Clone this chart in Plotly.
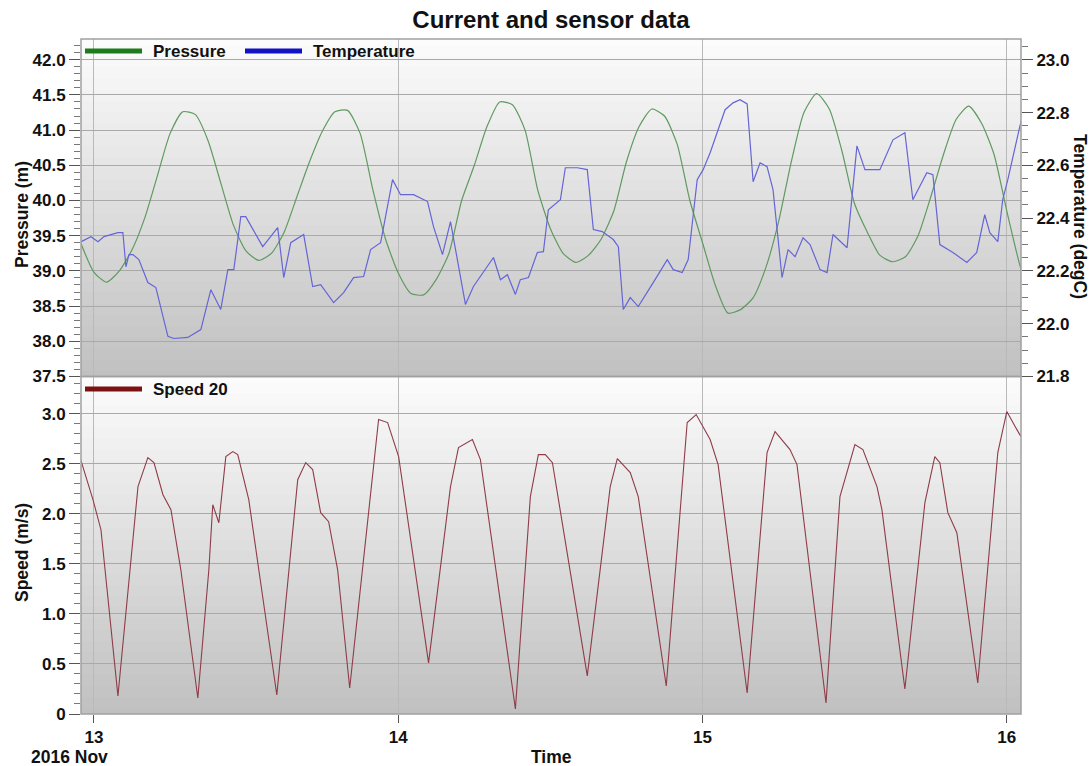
import pandas as pd
import plotly.graph_objects as go

BASE = pd.Timestamp("2016-11-13 00:00")

# ---------------- data (hours after 2016-11-13 00:00) ----------------
pressure_hours = [-1.05] + list(range(0, 75))
pressure_m = [39.40,
              38.98, 38.84, 39.00, 39.30, 39.75, 40.35, 40.95, 41.26, 41.22, 40.85,
              40.25, 39.65, 39.28, 39.15, 39.25, 39.55, 40.05, 40.55, 40.98, 41.26,
              41.28, 40.95, 40.15, 39.45, 38.97, 38.68, 38.66, 38.88, 39.25, 40.00,
              40.50, 41.05, 41.40, 41.36, 41.00, 40.15, 39.60, 39.25, 39.12, 39.22,
              39.45, 39.85, 40.55, 41.05, 41.30, 41.20, 40.80, 40.00, 39.40, 38.80,
              38.40, 38.45, 38.62, 39.05, 39.70, 40.55, 41.25, 41.52, 41.30, 40.70,
              39.95, 39.55, 39.22, 39.13, 39.20, 39.50, 40.05, 40.65, 41.15, 41.34,
              41.10, 40.65, 39.85, 39.10, 38.50]

temp_hours = [-1.05, -0.24, 0.32, 0.79, 1.89, 2.28, 2.52, 2.76, 3.07, 3.54, 4.25, 4.88,
              5.83, 6.30, 7.40, 8.43, 9.22, 10.00, 10.56, 11.03, 11.58, 11.97, 13.31,
              14.49, 14.97, 15.52, 16.54, 17.25, 17.88, 18.90, 19.69, 20.48, 21.27,
              21.82, 22.61, 23.55, 24.18, 25.21, 26.31, 26.78, 27.49, 28.12, 29.30,
              29.93, 31.51, 32.06, 32.61, 33.24, 33.63, 34.27, 34.97, 35.45, 35.84,
              36.79, 37.18, 38.12, 38.91, 39.39, 40.09, 40.96, 41.36, 41.75, 42.30,
              42.93, 44.11, 45.22, 45.69, 46.40, 46.87, 47.26, 47.58, 48.05, 48.60,
              49.78, 50.41, 50.96, 51.52, 51.99, 52.54, 53.09, 53.56, 54.27, 54.75,
              55.30, 55.93, 56.48, 57.27, 57.82, 58.29, 59.40, 60.18, 60.81, 61.99,
              63.02, 63.96, 64.59, 65.69, 66.17, 66.72, 67.75, 68.85, 69.63, 70.26,
              70.66, 71.29, 71.68, 72.08, 73.02, 73.20]
temp_degc = [22.310, 22.330, 22.311, 22.330, 22.345, 22.345, 22.216, 22.262, 22.262, 22.243,
             22.156, 22.137, 21.952, 21.944, 21.948, 21.978, 22.129, 22.054, 22.205, 22.205,
             22.406, 22.406, 22.292, 22.364, 22.175, 22.307, 22.338, 22.141, 22.148, 22.080,
             22.118, 22.175, 22.179, 22.281, 22.307, 22.546, 22.489, 22.489, 22.463, 22.368,
             22.262, 22.387, 22.073, 22.141, 22.251, 22.167, 22.186, 22.111, 22.167, 22.175,
             22.270, 22.273, 22.432, 22.470, 22.591, 22.591, 22.584, 22.357, 22.349, 22.319,
             22.292, 22.054, 22.099, 22.065, 22.156, 22.243, 22.205, 22.194, 22.243, 22.421,
             22.546, 22.584, 22.648, 22.811, 22.837, 22.849, 22.833, 22.538, 22.610, 22.595,
             22.508, 22.175, 22.281, 22.254, 22.326, 22.300, 22.205, 22.194, 22.338, 22.288,
             22.674, 22.584, 22.584, 22.697, 22.724, 22.470, 22.572, 22.565, 22.300, 22.270,
             22.232, 22.270, 22.413, 22.345, 22.311, 22.470, 22.546, 22.746, 22.780]

speed_hours = [-1.05, -0.08, 0.55, 1.89, 3.47, 4.25, 4.73, 5.44, 6.07, 6.85, 8.19, 9.06,
               9.37, 9.85, 10.40, 10.95, 11.34, 12.21, 13.00, 14.42, 16.07, 16.70, 17.25,
               17.88, 18.51, 19.22, 20.17, 22.45, 23.16, 24.03, 26.39, 28.12, 28.75,
               29.85, 30.48, 33.24, 34.42, 35.05, 35.60, 36.16, 38.91, 40.72, 41.28,
               42.30, 42.93, 45.14, 46.79, 47.50, 48.60, 49.23, 51.52, 53.09, 53.72,
               54.90, 55.45, 57.74, 58.84, 60.02, 60.65, 61.76, 62.15, 63.96, 65.54,
               66.32, 66.72, 67.35, 68.06, 69.71, 71.29, 72.00, 73.02, 73.20]
speed_ms = [2.54, 2.14, 1.84, 0.18, 2.27, 2.56, 2.51, 2.19, 2.04, 1.44, 0.16, 1.44,
            2.09, 1.91, 2.57, 2.62, 2.59, 2.14, 1.44, 0.19, 2.34, 2.51, 2.44,
            2.01, 1.92, 1.44, 0.26, 2.94, 2.91, 2.57, 0.51, 2.27, 2.66,
            2.74, 2.54, 0.05, 2.17, 2.59, 2.59, 2.51, 0.38, 2.27, 2.55,
            2.41, 2.17, 0.28, 2.91, 2.99, 2.74, 2.49, 0.21, 2.61, 2.82,
            2.64, 2.49, 0.11, 2.17, 2.69, 2.64, 2.27, 2.04, 0.25, 2.11,
            2.57, 2.51, 2.01, 1.81, 0.31, 2.61, 3.02, 2.79, 2.76]

day_ticks = ["2016-11-13", "2016-11-14", "2016-11-15", "2016-11-16"]
day_labels = ["13", "14", "15", "16"]
speed_ticks = [0, 0.5, 1.0, 1.5, 2.0, 2.5, 3.0]
speed_labels = ["0", "0.5", "1.0", "1.5", "2.0", "2.5", "3.0"]


def to_time(hours):
    return [BASE + pd.Timedelta(hours=h) for h in hours]


FONT = "Liberation Sans, Arial, sans-serif"
TICKFONT = dict(family=FONT, size=17, color="#111111", weight="bold")

fig = go.Figure()
fig.add_trace(go.Scatter(x=to_time(pressure_hours), y=pressure_m, mode="lines",
                         name="Pressure", xaxis="x", yaxis="y2", showlegend=False,
                         line=dict(color="#5f9a5f", width=1.2, shape="spline", smoothing=0.6)))
fig.add_trace(go.Scatter(x=to_time(temp_hours), y=temp_degc, mode="lines",
                         name="Temperature", xaxis="x", yaxis="y3", showlegend=False,
                         line=dict(color="#6565d6", width=1.2)))
fig.add_trace(go.Scatter(x=to_time(speed_hours), y=speed_ms, mode="lines",
                         name="Speed 20", xaxis="x", yaxis="y", showlegend=False,
                         line=dict(color="#8e3c48", width=1.1)))

# ---------------- background gradients / borders ----------------
shapes = []
N = 60
for (d0, d1) in [(0.0, 0.5), (0.5, 1.0)]:
    h = (d1 - d0) / N
    for i in range(N):
        f = (i + 0.5) / N  # 0 at top -> 1 at bottom
        c = int(round(252 - (252 - 192) * f))
        yt = d1 - h * i
        yb = max(d0, yt - h * 1.6)   # overlap to hide seams
        shapes.append(dict(type="rect", xref="paper", yref="paper", x0=0, x1=1,
                           y0=yb, y1=yt, layer="below", line=dict(width=0),
                           fillcolor=f"rgb({c},{c},{c})"))
for (d0, d1) in [(0.0, 0.5), (0.5, 1.0)]:
    shapes.append(dict(type="rect", xref="paper", yref="paper", x0=0, x1=1, y0=d0, y1=d1,
                       layer="above", line=dict(color="#a0a0a0", width=1.5),
                       fillcolor="rgba(0,0,0,0)"))

# manual legends
W, PL, PB, PH = 940.0, 81.0, 52.0, 675.0


def px_x(px):
    return (px - PL) / W


def px_y(py):
    return (766 - PB - py) / PH


legend_items = [("Pressure", "#1d7a1d", 85, 142, 151, 51),
                ("Temperature", "#1212c4", 245, 302, 311, 51),
                ("Speed 20", "#7a1212", 85, 142, 151, 389)]
annotations = []
for name, col, xa, xb, xt, yy in legend_items:
    shapes.append(dict(type="line", xref="paper", yref="paper", x0=px_x(xa), x1=px_x(xb),
                       y0=px_y(yy), y1=px_y(yy), layer="above",
                       line=dict(color=col, width=5)))
    annotations.append(dict(text=name, xref="paper", yref="paper", x=px_x(xt), y=px_y(yy),
                            xanchor="left", yanchor="middle", showarrow=False,
                            font=dict(family=FONT, size=17, color="#111111", weight="bold")))

TITLEFONT = dict(family=FONT, size=17.5, color="#111111", weight="bold")
annotations += [
    dict(text="Pressure (m)", xref="paper", yref="paper", x=px_x(22), y=px_y(215),
         textangle=-90, showarrow=False, xanchor="center", yanchor="middle", font=TITLEFONT),
    dict(text="Speed (m/s)", xref="paper", yref="paper", x=px_x(22), y=px_y(553),
         textangle=-90, showarrow=False, xanchor="center", yanchor="middle", font=TITLEFONT),
    dict(text="Temperature (degC)", xref="paper", yref="paper", x=px_x(1080), y=px_y(216),
         textangle=90, showarrow=False, xanchor="center", yanchor="middle", font=TITLEFONT),
    dict(text="Time", xref="paper", yref="paper", x=px_x(551), y=px_y(757),
         showarrow=False, xanchor="center", yanchor="middle", font=TITLEFONT),
    dict(text="2016 Nov", xref="paper", yref="paper", x=px_x(69), y=px_y(757),
         showarrow=False, xanchor="center", yanchor="middle", font=TITLEFONT),
]

x_range = [BASE - pd.Timedelta(hours=1.024), BASE + pd.Timedelta(hours=73.12)]

common_y = dict(ticks="outside", ticklen=11, tickcolor="#555555", tickwidth=1,
                tickfont=TICKFONT, showline=False, zeroline=False)

fig.update_layout(
    width=1091, height=766,
    margin=dict(l=81, r=70, t=39, b=52),
    paper_bgcolor="white", plot_bgcolor="rgba(0,0,0,0)",
    title=dict(text="<b>Current and sensor data</b>", x=0.5, xref="paper", xanchor="center",
               y=1 - 20 / 766, yanchor="middle",
               font=dict(family=FONT, size=24, color="#111111")),
    xaxis=dict(type="date", range=x_range, anchor="y", tickvals=day_ticks, ticktext=day_labels,
               ticks="outside", ticklen=8, tickcolor="#555555", tickfont=TICKFONT,
               showgrid=True, gridcolor="#b9b9b9", gridwidth=1, showline=False, zeroline=False),
    yaxis=dict(domain=[0, 0.5], range=[0, 3.37], tickvals=speed_ticks, ticktext=speed_labels,
               showgrid=True, gridcolor="#a9a9a9", gridwidth=1,
               minor=dict(dtick=0.1, tick0=0, ticks="outside", ticklen=6, tickcolor="#777777",
                          showgrid=False),
               **common_y),
    yaxis2=dict(domain=[0.5, 1], anchor="x", range=[37.5, 42.294], tick0=37.5, dtick=0.5,
                tickformat=".1f", showgrid=True, gridcolor="#a9a9a9", gridwidth=1,
                minor=dict(dtick=0.1, tick0=37.5, ticks="outside", ticklen=6, tickcolor="#777777",
                           showgrid=False),
                **common_y),
    yaxis3=dict(overlaying="y2", side="right", anchor="x", range=[21.8, 23.079], tick0=21.8,
                dtick=0.2, tickformat=".1f", showgrid=False,
                minor=dict(dtick=0.05, tick0=21.8, ticks="outside", ticklen=6,
                           tickcolor="#777777", showgrid=False),
                **common_y),
    shapes=shapes,
    annotations=annotations,
)

fig.write_html("out.html")
